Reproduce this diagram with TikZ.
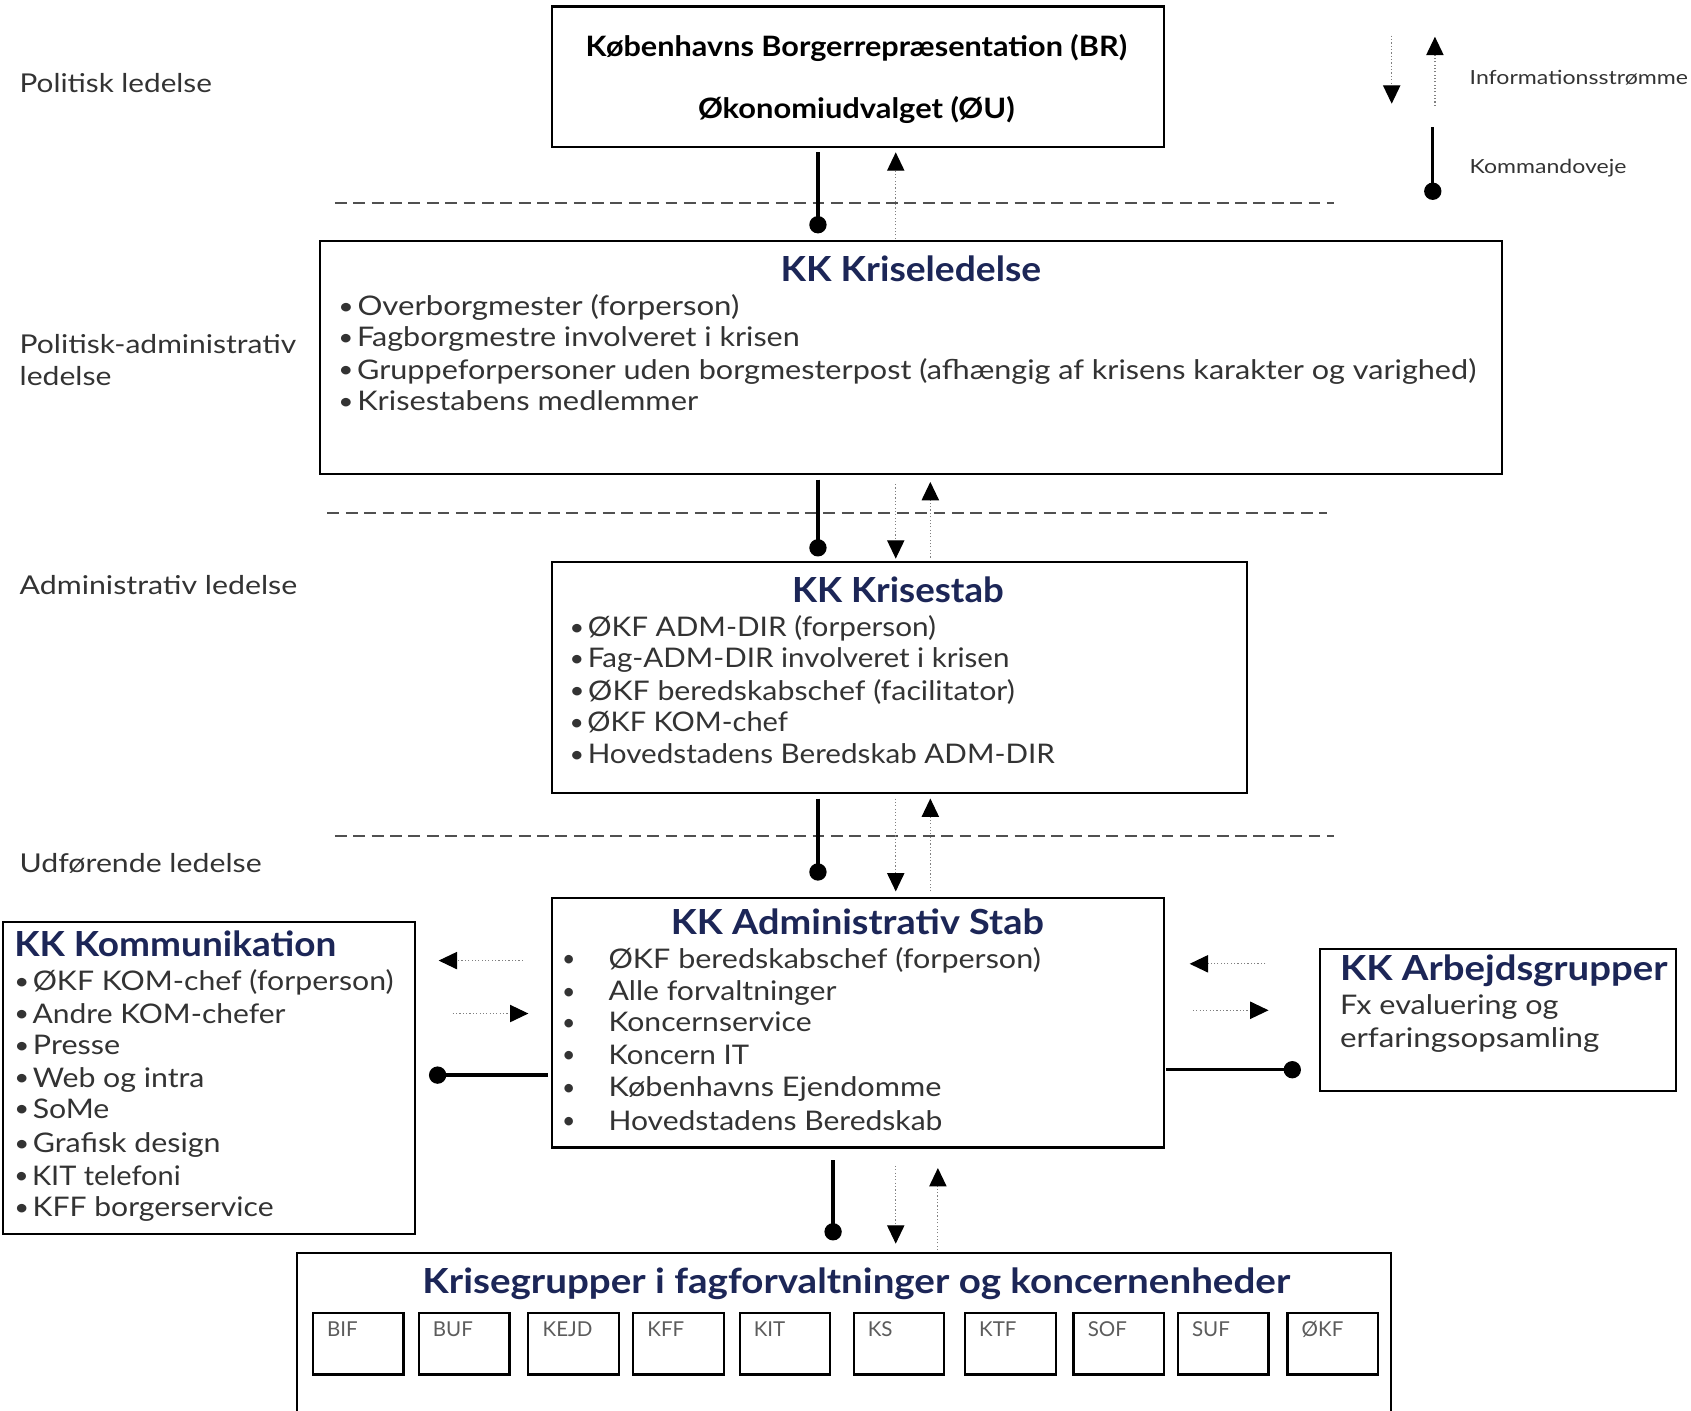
\documentclass[tikz,border=0pt]{standalone}
\usepackage{fontspec}
\setmainfont{Lato}
\usetikzlibrary{arrows.meta}
\definecolor{navy}{HTML}{1C2657}
\definecolor{txtc}{HTML}{333333}
\definecolor{dashc}{HTML}{505050}
\newcommand\fw[2]{\resizebox{#1pt}{\height}{#2}}
\newcommand\bul{\raisebox{0.05em}{\scalebox{0.85}{\textbullet}}\hspace{0.12em}}
\begin{document}
\begin{tikzpicture}[x=1pt,y=-1pt,
  box/.style={draw=black, line width=2pt, inner sep=0pt, fill=white},
  sbox/.style={draw=black, line width=2pt, inner sep=0pt, minimum width=84pt, minimum height=57pt},
  body/.style={inner sep=0pt, anchor=base west, text=txtc, font=\fontsize{25}{30}\selectfont},
  title/.style={inner sep=0pt, anchor=base, text=navy, font=\fontsize{32}{36}\selectfont\bfseries},
  ttitle/.style={inner sep=0pt, anchor=base west, text=navy, font=\fontsize{32}{36}\selectfont\bfseries},
  brtxt/.style={inner sep=0pt, anchor=base, text=black, font=\fontsize{26}{30}\selectfont\bfseries},
  lvl/.style={inner sep=0pt, anchor=base west, text=txtc, font=\fontsize{24}{28}\selectfont},
  leg/.style={inner sep=0pt, anchor=base west, text=txtc, font=\fontsize{18}{22}\selectfont},
  small/.style={inner sep=0pt, anchor=base west, text=txtc!80, font=\fontsize{19}{22}\selectfont},
  cmd/.style={line width=3pt, -{Circle[length=16pt]}},
  info/.style={line width=1.1pt, gray, dotted, -{Triangle[length=17pt,width=16pt,color=black,fill=black]}},
  dline/.style={line width=2pt, dashc, dash pattern=on 11pt off 6pt},
]
\useasboundingbox (0,0) rectangle (1565,1305);
\clip (0,0) rectangle (1565,1305);

% ---------- boxes ----------
\node[box, minimum width=566pt, minimum height=130pt] (br) at (794,71) {};
\node[box, minimum width=1094pt, minimum height=216pt] (kl) at (843,331) {};
\node[box, minimum width=643pt, minimum height=214pt] (ks) at (832.5,627) {};
\node[box, minimum width=566pt, minimum height=231pt] (as) at (794,946.5) {};
\node[box, minimum width=381pt, minimum height=289pt] (kom) at (193.5,997.5) {};
\node[box, minimum width=329pt, minimum height=132pt] (ag) at (1386.5,944) {};
\node[box, minimum width=1012pt, minimum height=180pt] (kg) at (781,1250) {};

% ---------- dashed level separators ----------
\coordinate (d1a) at (310,188); \coordinate (d1b) at (1235,188);
\coordinate (d2a) at (303,475); \coordinate (d2b) at (1228,475);
\coordinate (d3a) at (310,774); \coordinate (d3b) at (1235,774);
\draw[dline] (d1a) -- (d1b);
\draw[dline] (d2a) -- (d2b);
\draw[dline] (d3a) -- (d3b);

% ---------- level labels ----------
\node[lvl] (lv1) at (18,85.5) {\fw{178}{Politisk ledelse}};
\node[lvl] (lv2) at (18,327.5) {\fw{256}{Politisk-administrativ}};
\node[lvl] (lv3) at (18,356.5) {\fw{85}{ledelse}};
\node[lvl] (lv4) at (18,550.5) {\fw{257}{Administrativ ledelse}};
\node[lvl] (lv5) at (18,807.5) {\fw{224}{Udførende ledelse}};

% ---------- top box ----------
\node[brtxt] (br1) at (792.5,52) {\fw{501}{Københavns Borgerrepræsentation (BR)}};
\node[brtxt] (br2) at (792.5,110) {\fw{293}{Økonomiudvalget (ØU)}};

% ---------- legend ----------
\coordinate (l1a) at (1288,33); \coordinate (l1b) at (1288,96);
\coordinate (l2a) at (1328,98); \coordinate (l2b) at (1328,34);
\coordinate (l3a) at (1326,118); \coordinate (l3b) at (1326,185);
\draw[info] (l1a) -- (l1b);
\draw[info] (l2a) -- (l2b);
\draw[cmd] (l3a) -- (l3b);
\node[leg] (lg1) at (1360,78.5) {\fw{202}{Informationsstrømme}};
\node[leg] (lg2) at (1360,160.5) {\fw{145}{Kommandoveje}};

% ---------- KK Kriseledelse ----------
\node[title] (kl-t) at (843,260.5) {\fw{241}{KK Kriseledelse}};
\foreach \t/\w/\y [count=\i] in {
  {Overborgmester (forperson)}/371/283,
  {Fagborgmestre involveret i krisen}/427/312,
  {Gruppeforpersoner uden borgmesterpost (afhængig af krisens karakter og varighed)}/1053/342,
  {Krisestabens medlemmer}/333/371}
  \node[body] (kl-\i) at (313,\y+9) {\fw{\w}{\bul\t}};

% ---------- KK Krisestab ----------
\node[title] (ks-t) at (831,557.5) {\fw{196}{KK Krisestab}};
\foreach \t/\w/\y [count=\i] in {
  {ØKF ADM-DIR (forperson)}/339/580,
  {Fag-ADM-DIR involveret i krisen}/407/609,
  {ØKF beredskabschef (facilitator)}/412/639,
  {ØKF KOM-chef}/202/668,
  {Hovedstadens Beredskab ADM-DIR}/449/698}
  \node[body] (ks-\i) at (527,\y+9) {\fw{\w}{\bul\t}};

% ---------- KK Administrativ Stab ----------
\node[title] (as-t) at (793.5,864.5) {\fw{345}{KK Administrativ Stab}};
\foreach \t/\w/\y [count=\i] in {
  {ØKF beredskabschef (forperson)}/400/887,
  {Alle forvaltninger}/211/917,
  {Koncernservice}/188/946,
  {Koncern IT}/130/976,
  {Københavns Ejendomme}/308/1006,
  {Hovedstadens Beredskab}/309/1037}
  {\node[body] (asb-\i) at (520,\y+9) {\bul};
   \node[body] (as-\i) at (563,\y+9) {\fw{\w}{\t}};}

% ---------- KK Kommunikation ----------
\node[ttitle] (kom-t) at (13,885.5) {\fw{298}{KK Kommunikation}};
\foreach \t/\w/\y [count=\i] in {
  {ØKF KOM-chef (forperson)}/351/908,
  {Andre KOM-chefer}/251/938,
  {Presse}/98/967,
  {Web og intra}/176/997,
  {SoMe}/88/1026,
  {Grafisk design}/191/1058,
  {KIT telefoni}/154/1088,
  {KFF borgerservice}/240/1117}
  \node[body] (kom-\i) at (13,\y+9) {\fw{\w}{\bul\t}};

% ---------- KK Arbejdsgrupper ----------
\node[ttitle] (ag-t) at (1240,907.5) {\fw{303}{KK Arbejdsgrupper}};
\node[body] (ag-1) at (1240,939) {\fw{202}{Fx evaluering og}};
\node[body] (ag-2) at (1240,969) {\fw{240}{erfaringsopsamling}};

% ---------- Krisegrupper ----------
\node[title] (kg-t) at (792.5,1197.5) {\fw{803}{Krisegrupper i fagforvaltninger og koncernenheder}};
\foreach \n/\x [count=\i] in {BIF/331.5, BUF/429.5, KEJD/531, KFF/628, KIT/726.5, KS/832, KTF/935, SOF/1035.5, SUF/1132, ØKF/1233.5}
  {\node[sbox] (sb-\i) at (\x,1243.5) {};
   \node[small] (sl-\i) at ([xshift=14pt,yshift=-23pt]sb-\i.north west) {\n};}

% ---------- connectors ----------
\coordinate (cx1) at (757,0);
\coordinate (cx2) at (829,0);
\coordinate (cx3) at (861,0);
\coordinate (cx4) at (771,0);
\coordinate (cx5) at (868,0);
\coordinate (ry1) at (0,889);
\coordinate (ry2) at (0,938);
\coordinate (ry3) at (0,995);
\coordinate (ry4) at (0,892);
\coordinate (ry5) at (0,935);
\coordinate (ry6) at (0,990);

\draw[cmd, shorten <=4pt, shorten >=6pt] (br.south -| cx1) -- (kl.north -| cx1);
\draw[info, shorten <=1pt, shorten >=4pt] (kl.north -| cx2) -- (br.south -| cx2);

\draw[cmd, shorten <=4pt, shorten >=4pt] (kl.south -| cx1) -- (ks.north -| cx1);
\draw[info, shorten <=8pt, shorten >=2pt] (kl.south -| cx2) -- (ks.north -| cx2);
\draw[info, shorten <=3pt, shorten >=6pt] (ks.north -| cx3) -- (kl.south -| cx3);

\draw[cmd, shorten <=4pt, shorten >=15pt] (ks.south -| cx1) -- (as.north -| cx1);
\draw[info, shorten <=4pt, shorten >=5pt] (ks.south -| cx2) -- (as.north -| cx2);
\draw[info, shorten <=5pt, shorten >=4pt] (as.north -| cx3) -- (ks.south -| cx3);

\draw[info, shorten <=26pt, shorten >=21pt] (as.west |- ry1) -- (kom.east |- ry1);
\draw[info, shorten <=34pt, shorten >=21pt] (kom.east |- ry2) -- (as.west |- ry2);
\draw[cmd, shorten <=3pt, shorten >=12pt] (as.west |- ry3) -- (kom.east |- ry3);

\draw[info, shorten <=50pt, shorten >=23pt] (ag.west |- ry4) -- (as.east |- ry4);
\draw[info, shorten <=26pt, shorten >=47pt] (as.east |- ry5) -- (ag.west |- ry5);
\draw[cmd, shorten <=1pt, shorten >=17pt] (as.east |- ry6) -- (ag.west |- ry6);

\draw[cmd, shorten <=11pt, shorten >=11pt] (as.south -| cx4) -- (kg.north -| cx4);
\draw[info, shorten <=16pt, shorten >=8pt] (as.south -| cx2) -- (kg.north -| cx2);
\draw[info, shorten <=2pt, shorten >=18pt] (kg.north -| cx5) -- (as.south -| cx5);
\end{tikzpicture}
\end{document}
